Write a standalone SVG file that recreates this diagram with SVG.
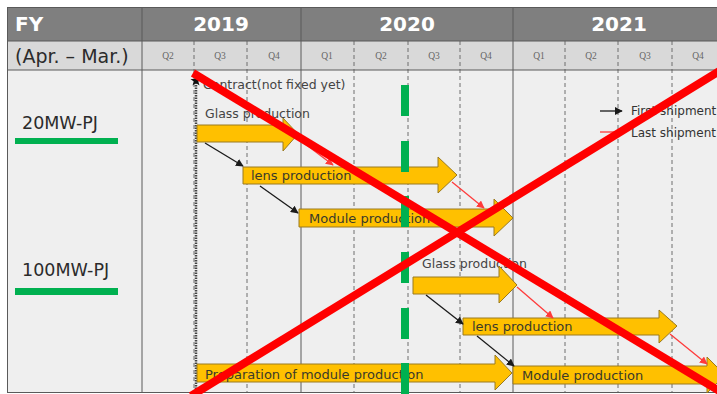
<svg xmlns="http://www.w3.org/2000/svg" width="717" height="394" viewBox="0 0 717 394">
  <defs>
    <style>
      text { font-family: "DejaVu Sans", Verdana, sans-serif; }
      .hdr { fill: #ffffff; font-weight: bold; font-size: 20px; }
      .qtr { fill: #666666; font-size: 9.5px; font-family: "Liberation Serif", serif; text-anchor: middle; }
      .lbl { fill: #2b2b2b; font-size: 17.5px; }
      .task { fill: #ffc000; stroke: #9a7a20; stroke-width: 1; }
      .ttxt { fill: #3a3a2a; font-size: 13px; }
      .note { fill: #444444; font-size: 12.5px; }
      .grid-q { stroke: #6f6f6f; stroke-width: 1; stroke-dasharray: 4 3; }
      .grid-y { stroke: #5a5a5a; stroke-width: 1; }
      .first { stroke: #1a1a1a; stroke-width: 1.3; fill: none; marker-end: url(#headBlack); }
      .last { stroke: #ff3b3b; stroke-width: 1.3; fill: none; marker-end: url(#headRed); }
      .bar { fill: #00b050; }
      .cross { stroke: #ff0000; stroke-width: 8; }
    </style>
    <marker id="headBlack" viewBox="0 0 10 10" refX="9" refY="5" markerWidth="6" markerHeight="6" orient="auto">
      <path d="M0,0 L10,5 L0,10 z" fill="#1a1a1a"/>
    </marker>
    <marker id="headRed" viewBox="0 0 10 10" refX="9" refY="5" markerWidth="6" markerHeight="6" orient="auto">
      <path d="M0,0 L10,5 L0,10 z" fill="#ff3b3b"/>
    </marker>
  </defs>

  <rect x="0" y="0" width="717" height="394" fill="#ffffff"/>

  <!-- table frame -->
  <g id="table">
    <rect x="7" y="7" width="720" height="34" fill="#7f7f7f"/>
    <rect x="7" y="41" width="720" height="29" fill="#d9d9d9"/>
    <rect x="7" y="70" width="720" height="323" fill="#efefef"/>

    <!-- quarter dividers (dashed) -->
    <g class="grid-q">
      <line x1="194" y1="41" x2="194" y2="393"/>
      <line x1="247" y1="41" x2="247" y2="393"/>
      <line x1="354" y1="41" x2="354" y2="393"/>
      <line x1="408" y1="41" x2="408" y2="393"/>
      <line x1="460" y1="41" x2="460" y2="393"/>
      <line x1="565" y1="41" x2="565" y2="393"/>
      <line x1="618" y1="41" x2="618" y2="393"/>
      <line x1="672" y1="41" x2="672" y2="393"/>
    </g>
    <!-- year dividers and borders -->
    <g class="grid-y">
      <line x1="7.5" y1="7" x2="7.5" y2="393"/>
      <line x1="142" y1="7" x2="142" y2="393"/>
      <line x1="301" y1="7" x2="301" y2="393"/>
      <line x1="513" y1="7" x2="513" y2="393"/>
      <line x1="7" y1="7.5" x2="717" y2="7.5"/>
      <line x1="7" y1="41" x2="717" y2="41"/>
      <line x1="7" y1="70" x2="717" y2="70"/>
      <line x1="7" y1="392.5" x2="717" y2="392.5"/>
    </g>

    <text x="15" y="31" class="hdr">FY</text>
    <text x="221" y="31" class="hdr" text-anchor="middle">2019</text>
    <text x="407" y="31" class="hdr" text-anchor="middle">2020</text>
    <text x="619" y="31" class="hdr" text-anchor="middle">2021</text>
    <text x="15" y="63" fill="#2b2b2b" font-size="19px">(Apr. – Mar.)</text>

    <text x="168" y="59" class="qtr">Q2</text>
    <text x="220" y="59" class="qtr">Q3</text>
    <text x="274" y="59" class="qtr">Q4</text>
    <text x="327" y="59" class="qtr">Q1</text>
    <text x="381" y="59" class="qtr">Q2</text>
    <text x="434" y="59" class="qtr">Q3</text>
    <text x="486" y="59" class="qtr">Q4</text>
    <text x="539" y="59" class="qtr">Q1</text>
    <text x="591" y="59" class="qtr">Q2</text>
    <text x="645" y="59" class="qtr">Q3</text>
    <text x="698" y="59" class="qtr">Q4</text>
  </g>

  <!-- project labels -->
  <g id="pj20">
    <text x="22" y="129" class="lbl">20MW-PJ</text>
    <rect x="15" y="138" width="103" height="6" class="bar"/>
  </g>
  <g id="pj100">
    <text x="22" y="276" class="lbl">100MW-PJ</text>
    <rect x="15" y="288" width="103" height="7" class="bar"/>
  </g>

  <!-- contract milestone -->
  <g id="contract">
    <line x1="196" y1="80" x2="196" y2="392" stroke="#444444" stroke-width="2.5" stroke-dasharray="1.5 1"/>
    <polygon points="196,75 197.5,79 201.5,79 198.3,81.5 199.5,85.5 196,83 192.5,85.5 193.7,81.5 190.5,79 194.5,79" fill="#111111"/>
    <text x="203" y="89" class="note">Contract(not fixed yet)</text>
  </g>

  <!-- legend -->
  <g id="legend">
    <line x1="600" y1="111" x2="622" y2="111" class="first"/>
    <text x="631" y="115" fill="#333333" font-size="12px">First shipment</text>
    <line x1="600" y1="132" x2="622" y2="132" stroke="#ff3b3b" stroke-width="1.3"/>
    <text x="631" y="137" fill="#333333" font-size="12px">Last shipment</text>
  </g>

  <!-- 20MW tasks -->
  <g id="glass20">
    <text x="205" y="118" class="note">Glass production</text>
    <path class="task" d="M197,125 H283 V118 L298,134 L283,151 V142 H197 Z"/>
  </g>
  <g id="lens20">
    <path class="task" d="M243,167 H438 V157 L457,175 L438,193 V184 H243 Z"/>
    <text x="251" y="180" class="ttxt">lens production</text>
  </g>
  <g id="module20">
    <path class="task" d="M299,209 H494 V199 L513,218 L494,236 V227 H299 Z"/>
    <text x="309" y="223" class="ttxt">Module production</text>
  </g>

  <!-- 100MW tasks -->
  <g id="glass100">
    <text x="422" y="268" class="note">Glass production</text>
    <path class="task" d="M413,277 H499 V266 L517,285 L499,303 V294 H413 Z"/>
  </g>
  <g id="lens100">
    <path class="task" d="M463,318 H659 V310 L677,326 L659,343 V335 H463 Z"/>
    <text x="472" y="331" class="ttxt">lens production</text>
  </g>
  <g id="prep100">
    <path class="task" d="M197,364 H495 V355 L512,373 L495,390 V382 H197 Z"/>
    <text x="205" y="379" class="ttxt">Preparation of module production</text>
  </g>
  <g id="module100">
    <path class="task" d="M513,366 H707 V357 L725,375 L707,393 V384 H513 Z"/>
    <text x="522" y="380" class="ttxt">Module production</text>
  </g>

  <!-- shipment connectors -->
  <g id="connectors">
    <line x1="205" y1="143" x2="243" y2="166" class="first"/>
    <line x1="260" y1="186" x2="298" y2="213" class="first"/>
    <line x1="426" y1="295" x2="463" y2="324" class="first"/>
    <line x1="477" y1="336" x2="514" y2="366" class="first"/>
    <line x1="300" y1="140" x2="333" y2="165" class="last"/>
    <line x1="452" y1="182" x2="484" y2="208" class="last"/>
    <line x1="517" y1="287" x2="553" y2="318" class="last"/>
    <line x1="670" y1="334" x2="707" y2="364" class="last"/>
  </g>

  <!-- today marker -->
  <g id="today" class="bar">
    <rect x="401" y="85" width="8" height="31"/>
    <rect x="401" y="141" width="8" height="31"/>
    <rect x="401" y="196" width="8" height="31"/>
    <rect x="401" y="252" width="8" height="31"/>
    <rect x="401" y="308" width="8" height="31"/>
    <rect x="401" y="363" width="8" height="31"/>
  </g>

  <!-- cancellation cross -->
  <g id="cross" class="cross">
    <line x1="193" y1="73" x2="726" y2="395"/>
    <line x1="191" y1="396" x2="726" y2="67"/>
  </g>
</svg>
